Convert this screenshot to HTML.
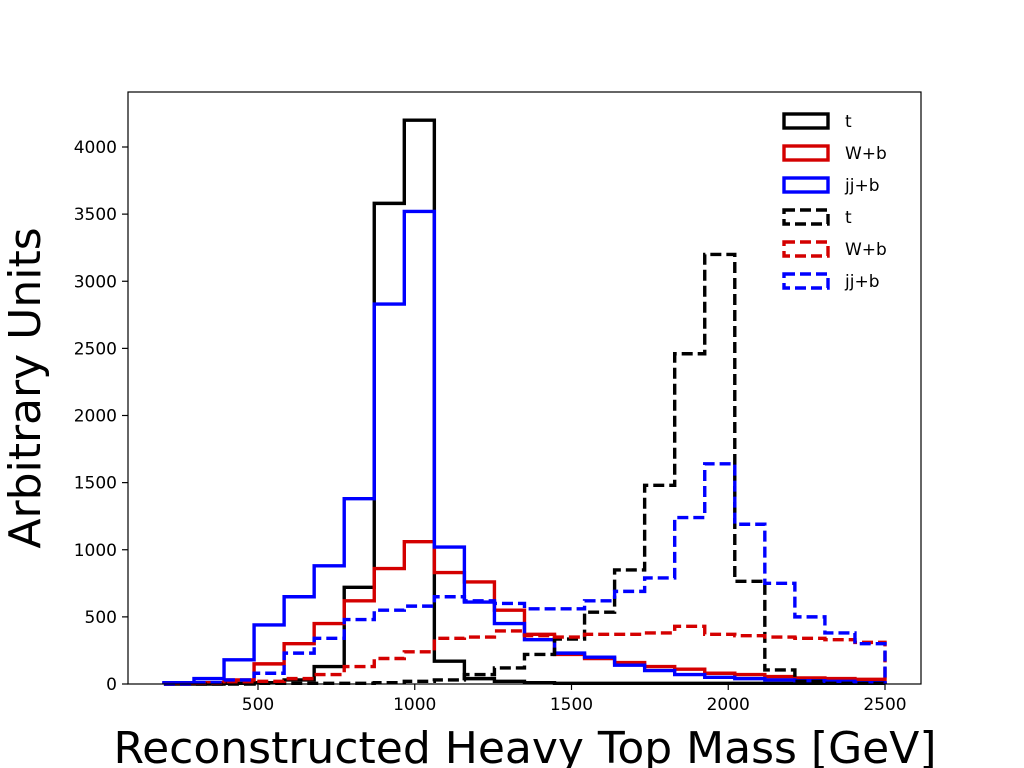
<!DOCTYPE html>
<html><head><meta charset="utf-8"><style>
html,body{margin:0;padding:0;background:#fff;}
svg{display:block;font-family:"DejaVu Sans","Liberation Sans",sans-serif;}
</style></head><body>
<svg id="s" width="1024" height="768" viewBox="0 0 1024 768" xmlns="http://www.w3.org/2000/svg">
<rect width="1024" height="768" fill="#fff"/>
<g id="plot"></g>
<rect x="128" y="92" width="793" height="592" fill="none" stroke="#000" stroke-width="1.2"/>
<g id="ticks" font-size="17" fill="#000"></g>
<text x="525" y="763" font-size="44" text-anchor="middle">Reconstructed Heavy Top Mass [GeV]</text>
<text transform="translate(40,388) rotate(-90)" font-size="44" text-anchor="middle">Arbitrary Units</text>
<g id="legend" font-size="17"></g>
</svg>
<script>
var X=function(v){return 258+(v-500)*0.3135;};
var Y=function(v){return 684-v*0.13425;};
var data=[
 ["#000","",[0,0,5,10,30,130,720,3580,4200,170,40,20,10,5,5,5,5,5,5,5,5,5,5,5]],
 ["#d40000","",[5,10,30,150,300,450,620,860,1060,830,760,550,370,220,190,160,130,110,80,70,55,45,40,35]],
 ["#0000ff","",[10,40,180,440,650,880,1380,2830,3520,1020,610,450,330,230,200,140,100,70,50,40,30,25,20,10]],
 ["#000","11,5",[0,0,0,5,5,5,5,10,20,30,70,120,220,335,535,850,1480,2460,3200,765,105,20,5,5]],
 ["#d40000","11,5",[0,5,10,20,40,70,130,190,240,340,350,395,360,350,370,370,380,430,370,360,350,340,330,310]],
 ["#0000ff","11,5",[0,10,30,80,230,340,480,550,580,650,620,600,560,560,620,690,790,1240,1640,1190,750,500,380,300]]
];
var ns="http://www.w3.org/2000/svg";
var g=document.getElementById("plot");
var w=2300/24;
data.forEach(function(d){
 var p="M"+X(200)+","+Y(0);
 d[2].forEach(function(v,i){var a=200+i*w;p+=" L"+X(a)+","+Y(v)+" L"+X(a+w)+","+Y(v);});
 p+=" L"+X(2500)+","+Y(0);
 var e=document.createElementNS(ns,"path");
 e.setAttribute("d",p);e.setAttribute("fill","none");e.setAttribute("stroke",d[0]);
 e.setAttribute("stroke-width","3.4");e.setAttribute("stroke-linejoin","miter");
 if(d[1])e.setAttribute("stroke-dasharray",d[1]);
 g.appendChild(e);
});
var t=document.getElementById("ticks"),h="";
[500,1000,1500,2000,2500].forEach(function(v){var x=X(v);
 h+='<line x1="'+x+'" y1="684" x2="'+x+'" y2="690" stroke="#000" stroke-width="1.2"/>';
 h+='<text x="'+x+'" y="710" text-anchor="middle">'+v+'</text>';});
for(var v=0;v<=4000;v+=500){var y=Y(v);
 h+='<line x1="122" y1="'+y+'" x2="128" y2="'+y+'" stroke="#000" stroke-width="1.2"/>';
 h+='<text x="117" y="'+(y+6)+'" text-anchor="end">'+v+'</text>';}
t.innerHTML=h;
var L=document.getElementById("legend"),lh="";
var labs=["t","W+b","jj+b","t","W+b","jj+b"];
data.forEach(function(d,i){var y=121+i*32;
 lh+='<rect x="784" y="'+(y-7)+'" width="44" height="14" fill="none" stroke="'+d[0]+'" stroke-width="3.4"'+(d[1]?' stroke-dasharray="'+d[1]+'"':'')+'/>';
 lh+='<text x="845" y="'+(y+6)+'">'+labs[i]+'</text>';});
L.innerHTML=lh;
</script>
</body></html>
